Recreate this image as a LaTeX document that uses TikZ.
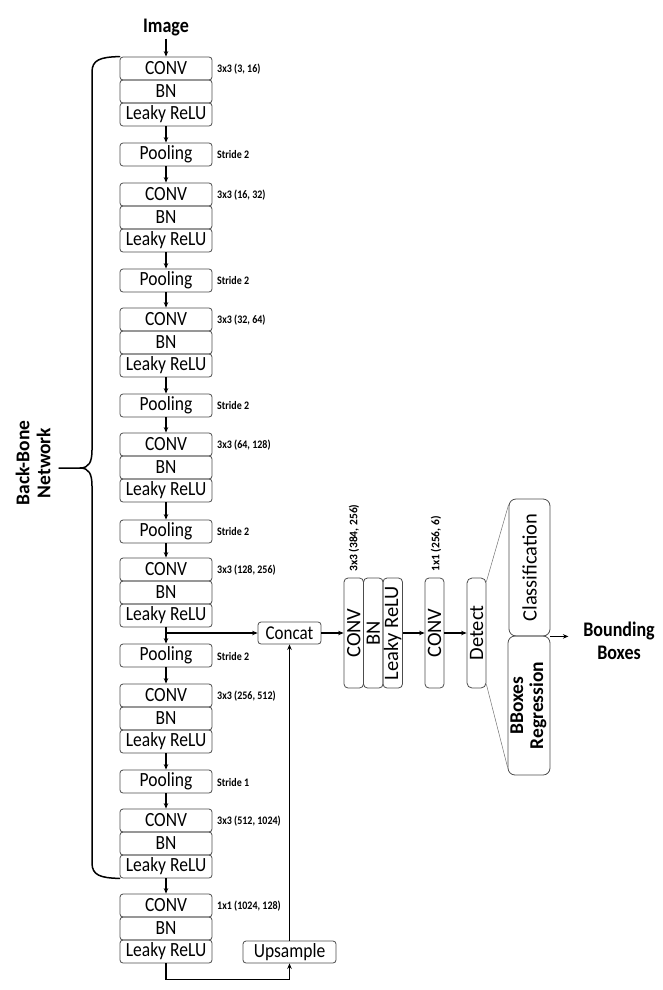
\documentclass[tikz,border=0pt]{standalone}
\usepackage{fontspec}
\setmainfont{Carlito}
\usetikzlibrary{arrows.meta}
\newcommand{\hs}[1]{\scalebox{1}[1.15]{#1}}
\begin{document}
\begin{tikzpicture}[x=1pt,y=-1pt,
  box/.style={draw=black!70, line width=0.8pt, rounded corners=3pt, minimum width=92pt, minimum height=23pt, inner sep=0pt, font=\fontsize{17.5}{20}\selectfont},
  vbox/.style={draw=black!70, line width=0.8pt, rounded corners=4pt, minimum width=19.5pt, minimum height=110pt, inner sep=0pt, font=\fontsize{20.5}{22}\selectfont},
  lbl/.style={anchor=west, inner sep=0pt, font=\bfseries\fontsize{10}{12}\selectfont},
  rlbl/.style={anchor=west, rotate=90, inner sep=0pt, font=\bfseries\fontsize{11.5}{13}\selectfont},
  conn/.style={line width=1.3pt, -{Stealth[length=5.5pt,width=4.5pt]}},
  thin/.style={draw=black!55, line width=0.5pt}]
\useasboundingbox (0,0) rectangle (662,990);

\node[font=\bfseries\fontsize{18}{20}\selectfont, inner sep=0pt] (img) at (166,28) {\hs{Image}};

\foreach \i/\t/\lab in {1/57/{3x3 (3, 16)}, 2/183/{3x3 (16, 32)}, 3/308/{3x3 (32, 64)}, 4/433/{3x3 (64, 128)}, 5/558/{3x3 (128, 256)}, 6/684/{3x3 (256, 512)}, 7/809/{3x3 (512, 1024)}, 8/894/{1x1 (1024, 128)}} {
  \node[box] (c\i) at (166,{\t+11.5}) {\hs{CONV}};
  \node[box] (b\i) at (166,{\t+34.5}) {\hs{BN}};
  \node[box] (l\i) at (166,{\t+57.5}) {\hs{Leaky ReLU}};
  \node[lbl] (cl\i) at (217,{\t+12.5}) {\hs{\lab}};
}
\foreach \i/\t/\s in {1/143/2, 2/269/2, 3/394/2, 4/520/2, 5/644/2, 6/770/1} {
  \node[box] (p\i) at (166,{\t+11.5}) {\hs{Pooling}};
  \node[lbl] (pl\i) at (217,{\t+12}) {\hs{Stride \s}};
}

\draw[conn] ([yshift=-2pt]img.south) -- (c1.north);
\foreach \i/\j in {1/2,2/3,3/4,4/5,5/6,6/7} {
  \draw[conn] (l\i.south) -- (p\i.north);
  \draw[conn] (p\i.south) -- (c\j.north);
}
\draw[conn] (l7.south) -- (c8.north);

% concat branch
\node[box, minimum width=63pt, minimum height=22pt, font=\fontsize{17}{20}\selectfont] (cat) at (289.5,633) {\hs{Concat}};
\node[box, minimum width=93pt, minimum height=22pt] (up) at (289.5,952) {\hs{Upsample}};
\draw[conn] (l5.south |- cat.west) -- (cat.west);
\draw[conn] (l8.south) -- ++(0,16) -| (up.south);
\draw[conn] (up.north) -- (cat.south);

% head
\node[vbox] (vc) at (353.75,633) {\rotatebox{90}{CONV}};
\node[vbox] (vb) at (373.25,633) {\rotatebox{90}{BN}};
\node[vbox] (vl) at (392.75,633) {\rotatebox{90}{Leaky ReLU}};
\node[vbox, minimum width=19pt] (vc2) at (434.5,633) {\rotatebox{90}{CONV}};
\node[vbox, minimum width=19pt, rounded corners=5pt] (det) at (476.5,633) {\rotatebox{90}{Detect}};
\node[rlbl] (vcl) at (354,572) {3x3 (384, 256)};
\node[rlbl] (vc2l) at (436,572) {1x1 (256, 6)};
\draw[conn] (cat.east) -- (vc.west);
\draw[conn] (vl.east) -- (vc2.west);
\draw[conn] (vc2.east) -- (det.west);

\node[vbox, minimum width=41pt, minimum height=137pt, rounded corners=7pt] (cls) at (529.5,567.5) {\rotatebox{90}{Classification}};
\node[vbox, minimum width=42pt, minimum height=139pt, rounded corners=7pt, font=\bfseries\fontsize{19.5}{21}\selectfont] (reg) at (529,705.5) {\rotatebox{90}{\begin{tabular}{@{}c@{}}BBoxes\\[-1pt]Regression\end{tabular}}};
\draw[thin] ([yshift=-4pt]det.north east) -- ([yshift=-6pt]cls.north west);
\draw[thin] ([yshift=4pt]det.south east) -- ([yshift=8pt]reg.south west);
\draw[conn] (cls.south east) -- ++(18,0) coordinate (oe);
\node[font=\bfseries\fontsize{18}{23}\selectfont, align=center, inner sep=0pt] (bbx) at (619,641) {\hs{Bounding}\\\hs{Boxes}};

% brace
\draw[line width=1.5pt, line cap=round] (c1.north west) .. controls (100,57) and (92,60) .. (92,72) -- (92,450) .. controls (92,462) and (89,468) .. (80,468) -- (59,468);
\draw[line width=1.5pt, line cap=round] (l7.south west) .. controls (100,878) and (92,875) .. (92,863) -- (92,486) .. controls (92,474) and (89,468) .. (80,468);
\node[rotate=90, align=center, inner sep=0pt, font=\bfseries\fontsize{19.5}{21}\selectfont] (bbn) at (33,463) {Back-Bone\\Network};
\end{tikzpicture}
\end{document}
